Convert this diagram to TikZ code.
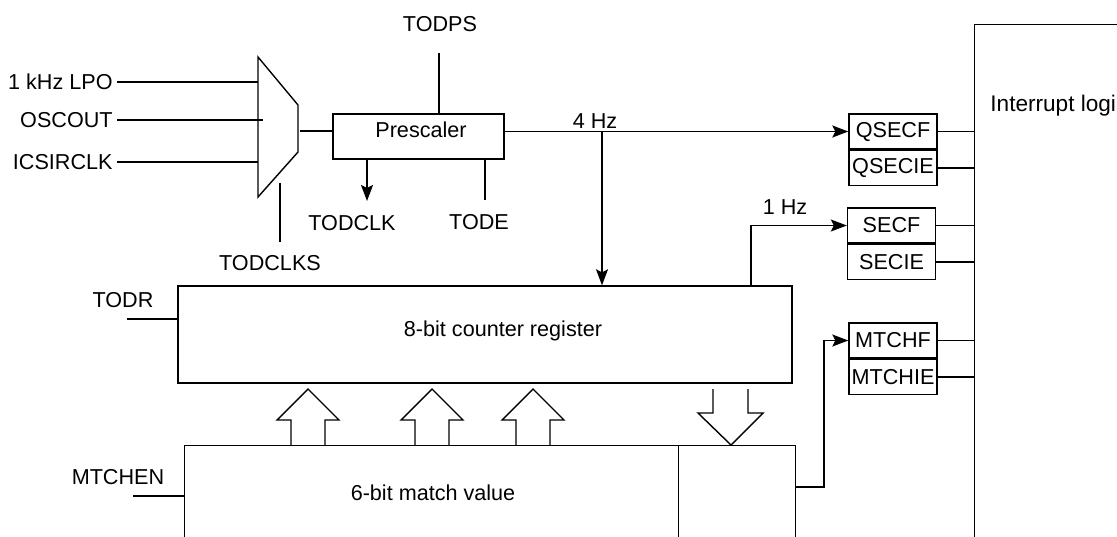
\documentclass[tikz,border=0pt]{standalone}
\usepackage{fontspec}
\setmainfont{Liberation Sans}
\usetikzlibrary{arrows.meta,positioning}
\tikzstyle{box} = [rectangle, draw, line width=0.7pt, inner sep=0pt]
\tikzstyle{flag} = [rectangle, draw, line width=0.7pt, inner sep=0pt, minimum width=44pt, minimum height=17.5pt]
\tikzstyle{lbl} = [inner sep=2pt]
\tikzstyle{wire} = [line width=0.7pt]
\tikzstyle{arrow} = [line width=0.7pt,->,>={Stealth[length=8pt,width=6pt,inset=1.5pt]}]
\tikzstyle{bigarrow} = [line width=0.7pt, line join=miter]

\begin{document}
\begin{tikzpicture}[x=0.5pt,y=-0.5pt,font=\fontsize{10.8}{12}\selectfont]
\useasboundingbox (0,0) rectangle (1117,536);
\clip (0,0) rectangle (1117,536);

% clock select mux
\coordinate (mtl) at (258,57);
\coordinate (mtr) at (298,105);
\coordinate (mbr) at (298,152);
\coordinate (mbl) at (258,197);
\coordinate (mo) at (298,131);
\draw[wire] (mtl) -- (mtr) -- (mbr) -- (mbl) -- cycle;

\node[lbl, anchor=east] (lpo) at (117,82) {1 kHz LPO};
\node[lbl, anchor=east] (osc) at (117,120) {OSCOUT};
\node[lbl, anchor=east] (ics) at (117,162) {ICSIRCLK};
\draw[wire] (lpo.east) -- (lpo.east -| mtl);
\draw[wire] (osc.east) -- ++(146,0);
\draw[wire] (ics.east) -- (ics.east -| mtl);

\node[lbl] (clks) at (270,263) {TODCLKS};
\coordinate (selt) at (280,183);
\coordinate (selb) at (280,242);
\draw[wire] (selt) -- (selb);

% prescaler
\node[box, minimum width=85.5pt, minimum height=22.5pt] (pre) at (418.5,136.5) {};
\node[lbl] (prelbl) at (421,130) {Prescaler};
\draw[wire] (mo) ++(2,0) -- (mo -| pre.west);

\node[lbl] (todps) at (440,24) {TODPS};
\coordinate (ps) at (439,53);
\draw[wire] (ps) -- (ps |- pre.north);

\node[lbl] (todclk) at (352,223) {TODCLK};
\coordinate (ck) at (367,201);
\draw[arrow] (ck |- pre.south) -- (ck);

\node[lbl] (tode) at (479,222) {TODE};
\coordinate (te) at (485,200);
\draw[wire] (te |- pre.south) -- (te);

% flag registers
\node[flag] (qsecf) at (893,131.5) {QSECF};
\node[flag, below=0pt of qsecf] (qsecie) {QSECIE};
\node[flag] (secf) at (891.5,225.5) {SECF};
\node[flag, below=0pt of secf] (secie) {SECIE};
\node[flag] (mtchf) at (893,340.5) {MTCHF};
\node[flag, below=0pt of mtchf] (mtchie) {MTCHIE};

% interrupt logic
\node[box, anchor=north west, minimum width=100pt, minimum height=290pt] (intr) at (974,24) {};
\node[lbl, anchor=west, font=\fontsize{11.3}{13}\selectfont] (intrlbl) at (986,106) {Interrupt logic};
\foreach \f in {qsecf,qsecie,secf,secie,mtchf,mtchie}
  \draw[wire] (\f.east) -- (\f.east -| intr.west);

% counter
\node[box, minimum width=307pt, minimum height=48.5pt] (cnt) at (485,334.5) {};
\node[lbl] (cntlbl) at (503,331) {8-bit counter register};

\draw[arrow] (pre.east |- qsecf) -- (qsecf.west);
\node[lbl] (f4) at (595,121) {4 Hz};
\coordinate (tap) at (602,131.5);
\draw[arrow] (tap) -- (tap |- cnt.north);

\coordinate (t1) at (751,225.5);
\draw[arrow] (t1 |- cnt.north) -- (t1) -- (secf.west);
\node[lbl] (f1) at (785,207) {1 Hz};

\node[lbl] (todr) at (123,300) {TODR};
\coordinate (todrend) at (127,319);
\draw[wire] (todrend) -- (todrend -| cnt.west);

% match value
\node[box, anchor=north west, minimum width=247pt, minimum height=48pt] (mv) at (184,445) {};
\node[box, anchor=north west, minimum width=58.5pt, minimum height=48pt] (mvr) at (678,445) {};
\node[lbl] (mvlbl) at (433,493) {6-bit match value};

\node[lbl] (mtchen) at (118,477) {MTCHEN};
\coordinate (menend) at (133,496);
\draw[wire] (menend) -- (menend -| mv.west);

\coordinate (mk) at (824,487);
\draw[arrow] (mvr.east |- mk) -- (mk) |- (mtchf.west);

% bus arrows
\foreach \x in {308,432,533}
  \draw[bigarrow] (\x-17,445) -- (\x-17,420) -- (\x-31,420) -- (\x,389) -- (\x+31,420) -- (\x+17,420) -- (\x+17,445);
\draw[bigarrow] (713,389) -- (713,413) -- (698,413) -- (731,445) -- (763,413) -- (748,413) -- (748,389);
\end{tikzpicture}
\end{document}
